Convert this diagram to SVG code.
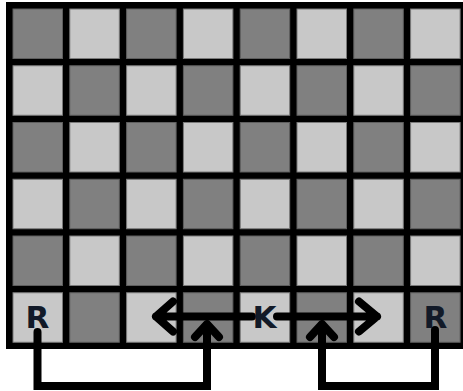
<svg xmlns="http://www.w3.org/2000/svg" width="463" height="391" viewBox="0 0 463 391">
<style>
.d{fill:#808080;stroke:#5e5e5e;stroke-width:1}
.l{fill:#c8c8c8;stroke:#7a7a7a;stroke-width:1}
.t{font-family:"DejaVu Sans",sans-serif;font-weight:bold;font-size:31px;fill:#121a28;text-anchor:middle}
.c{fill:none;stroke:#000;stroke-width:8;stroke-linecap:round;stroke-linejoin:round}
.b{fill:none;stroke:#000;stroke-width:8;stroke-linecap:round;stroke-linejoin:miter}
</style>
<defs>
<rect id="sq" width="49.5" height="49.5"/>
</defs>
<rect width="463" height="391" fill="#fff"/>
<rect x="6" y="2" width="457" height="347" fill="#000"/>
<g id="board">
<rect class="d" x="13" y="9" width="49.5" height="49.5"/><rect class="l" x="69.8" y="9" width="49.5" height="49.5"/><rect class="d" x="126.6" y="9" width="49.5" height="49.5"/><rect class="l" x="183.4" y="9" width="49.5" height="49.5"/><rect class="d" x="240.2" y="9" width="49.5" height="49.5"/><rect class="l" x="297" y="9" width="49.5" height="49.5"/><rect class="d" x="353.8" y="9" width="49.5" height="49.5"/><rect class="l" x="410.6" y="9" width="49.5" height="49.5"/>
<rect class="l" x="13" y="65.75" width="49.5" height="49.5"/><rect class="d" x="69.8" y="65.75" width="49.5" height="49.5"/><rect class="l" x="126.6" y="65.75" width="49.5" height="49.5"/><rect class="d" x="183.4" y="65.75" width="49.5" height="49.5"/><rect class="l" x="240.2" y="65.75" width="49.5" height="49.5"/><rect class="d" x="297" y="65.75" width="49.5" height="49.5"/><rect class="l" x="353.8" y="65.75" width="49.5" height="49.5"/><rect class="d" x="410.6" y="65.75" width="49.5" height="49.5"/>
<rect class="d" x="13" y="122.5" width="49.5" height="49.5"/><rect class="l" x="69.8" y="122.5" width="49.5" height="49.5"/><rect class="d" x="126.6" y="122.5" width="49.5" height="49.5"/><rect class="l" x="183.4" y="122.5" width="49.5" height="49.5"/><rect class="d" x="240.2" y="122.5" width="49.5" height="49.5"/><rect class="l" x="297" y="122.5" width="49.5" height="49.5"/><rect class="d" x="353.8" y="122.5" width="49.5" height="49.5"/><rect class="l" x="410.6" y="122.5" width="49.5" height="49.5"/>
<rect class="l" x="13" y="179.25" width="49.5" height="49.5"/><rect class="d" x="69.8" y="179.25" width="49.5" height="49.5"/><rect class="l" x="126.6" y="179.25" width="49.5" height="49.5"/><rect class="d" x="183.4" y="179.25" width="49.5" height="49.5"/><rect class="l" x="240.2" y="179.25" width="49.5" height="49.5"/><rect class="d" x="297" y="179.25" width="49.5" height="49.5"/><rect class="l" x="353.8" y="179.25" width="49.5" height="49.5"/><rect class="d" x="410.6" y="179.25" width="49.5" height="49.5"/>
<rect class="d" x="13" y="236" width="49.5" height="49.5"/><rect class="l" x="69.8" y="236" width="49.5" height="49.5"/><rect class="d" x="126.6" y="236" width="49.5" height="49.5"/><rect class="l" x="183.4" y="236" width="49.5" height="49.5"/><rect class="d" x="240.2" y="236" width="49.5" height="49.5"/><rect class="l" x="297" y="236" width="49.5" height="49.5"/><rect class="d" x="353.8" y="236" width="49.5" height="49.5"/><rect class="l" x="410.6" y="236" width="49.5" height="49.5"/>
<rect class="l" x="13" y="292.75" width="49.5" height="49.5"/><rect class="d" x="69.8" y="292.75" width="49.5" height="49.5"/><rect class="l" x="126.6" y="292.75" width="49.5" height="49.5"/><rect class="d" x="183.4" y="292.75" width="49.5" height="49.5"/><rect class="l" x="240.2" y="292.75" width="49.5" height="49.5"/><rect class="d" x="297" y="292.75" width="49.5" height="49.5"/><rect class="l" x="353.8" y="292.75" width="49.5" height="49.5"/><rect class="d" x="410.6" y="292.75" width="49.5" height="49.5"/>
</g>
<g id="connectors">
<path class="c" d="M252 316.5 H156 M173 301.5 L156 316.5 L173 331.5"/>
<path class="c" d="M277 316.5 H377 M359 301.5 L377 316.5 L359 331.5"/>
<path class="b" d="M37.5 332 V386 H207 V325"/>
<path class="c" d="M195 337 L207 324 L219 337"/>
<path class="b" d="M435 330 V386 H322 V325"/>
<path class="c" d="M310 337 L322 324 L334 337"/>
</g>
<g id="rook-left"><text class="t" x="37.5" y="328">R</text></g>
<g id="king"><text class="t" x="264.5" y="328">K</text></g>
<g id="rook-right"><text class="t" x="435.5" y="328">R</text></g>
</svg>
